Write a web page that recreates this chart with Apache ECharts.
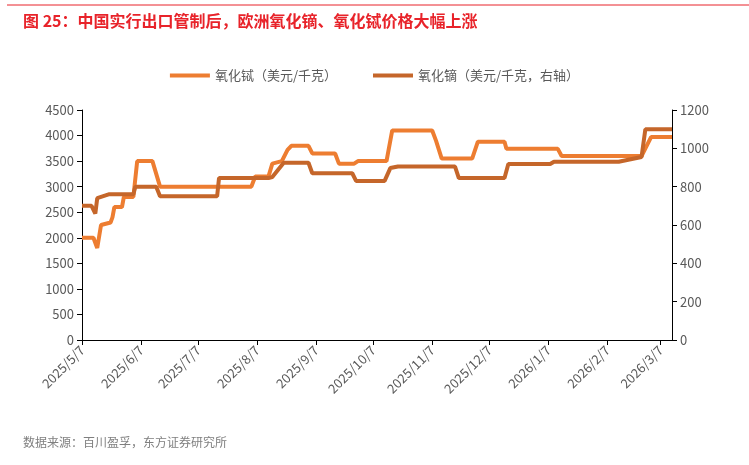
<!DOCTYPE html>
<html>
<head>
<meta charset="utf-8">
<script src="https://cdn.jsdelivr.net/npm/echarts@6/dist/echarts.min.js"></script>
<style>html,body{margin:0;padding:0;background:#fff}#chart{width:749px;height:465px}</style>
</head>
<body>
<div id="chart"></div>
<script>
// 氧化铽（美元/千克）
const tbDates = ['2025/5/7','2025/5/13','2025/5/15','2025/5/17','2025/5/22','2025/5/23','2025/5/24','2025/5/28','2025/5/29','2025/6/3','2025/6/5','2025/6/13','2025/6/17','2025/8/4','2025/8/6','2025/8/13','2025/8/15','2025/8/20','2025/8/23','2025/8/25','2025/9/3','2025/9/5','2025/9/17','2025/9/19','2025/9/27','2025/9/29','2025/10/14','2025/10/17','2025/11/7','2025/11/9','2025/11/12','2025/11/28','2025/12/1','2025/12/15','2025/12/16','2026/1/12','2026/1/14','2026/2/25','2026/3/2','2026/3/13'];
const tbValues = [2000,2000,1800,2250,2300,2400,2600,2600,2800,2800,3500,3500,3000,3000,3200,3200,3450,3500,3720,3800,3800,3650,3650,3450,3450,3500,3500,4100,4100,3900,3550,3550,3880,3880,3740,3740,3600,3600,3970,3970];
// 氧化镝（美元/千克，右轴）
const dyDates = ['2025/5/7','2025/5/12','2025/5/14','2025/5/15','2025/5/21','2025/6/3','2025/6/4','2025/6/15','2025/6/17','2025/7/17','2025/7/18','2025/8/13','2025/8/15','2025/8/21','2025/9/3','2025/9/5','2025/9/26','2025/9/28','2025/10/13','2025/10/16','2025/10/20','2025/11/19','2025/11/21','2025/12/15','2025/12/17','2026/1/8','2026/1/10','2026/2/13','2026/2/25','2026/2/27','2026/3/13'];
const dyValues = [700,700,660,740,760,760,800,800,750,750,845,845,850,925,925,870,870,830,830,897,905,905,845,845,918,918,930,930,955,1100,1100];

const days = [];
for (let t = new Date(2025, 4, 7); t <= new Date(2026, 2, 13); t.setDate(t.getDate() + 1)) {
  days.push(`${t.getFullYear()}/${t.getMonth() + 1}/${t.getDate()}`);
}
const isTick = (i, v) => v.split('/')[2] === '7';

const chart = echarts.init(document.getElementById('chart'));
const font = '"Noto Sans CJK SC", sans-serif';
chart.setOption({
  animation: false,
  textStyle: { fontFamily: font },
  title: [
    { text: '图 25：中国实行出口管制后，欧洲氧化镝、氧化铽价格大幅上涨', left: 18, top: 8,
      textStyle: { color: '#E8232A', fontSize: 16, fontWeight: 'bold', fontFamily: font } },
    { text: '数据来源：百川盈孚，东方证券研究所', left: 18, top: 431,
      textStyle: { color: '#7f7f7f', fontSize: 12, fontWeight: 'normal', fontFamily: font } }
  ],
  graphic: [{ type: 'line', shape: { x1: 7, y1: 5, x2: 749, y2: 5 }, style: { stroke: '#E8232A', lineWidth: 1 } }],
  legend: {
    top: 64, left: 'center', itemWidth: 40, itemHeight: 4, itemGap: 36,
    icon: 'rect',
    textStyle: { color: '#595959', fontSize: 13 },
    data: ['氧化铽（美元/千克）', '氧化镝（美元/千克，右轴）']
  },
  grid: { left: 82, right: 77, top: 110, bottom: 125 },
  xAxis: {
    type: 'category', data: days, boundaryGap: false,
    axisLine: { lineStyle: { color: '#000' } },
    axisTick: { show: true, lineStyle: { color: '#000' }, interval: isTick },
    axisLabel: { rotate: 45, color: '#595959', fontSize: 13, interval: isTick }
  },
  yAxis: [
    { type: 'value', min: 0, max: 4500, interval: 500, splitLine: { show: false },
      axisLine: { show: true, lineStyle: { color: '#000' } }, axisTick: { show: true },
      axisLabel: { color: '#595959', fontSize: 13, formatter: v => String(v) } },
    { type: 'value', min: 0, max: 1200, interval: 200, splitLine: { show: false },
      axisLine: { show: true, lineStyle: { color: '#000' } }, axisTick: { show: true },
      axisLabel: { color: '#595959', fontSize: 13, formatter: v => String(v) } }
  ],
  series: [
    { name: '氧化铽（美元/千克）', type: 'line', showSymbol: false, yAxisIndex: 0,
      color: '#ED7D31', lineStyle: { width: 4 },
      data: tbDates.map((d, i) => [d, tbValues[i]]) },
    { name: '氧化镝（美元/千克，右轴）', type: 'line', showSymbol: false, yAxisIndex: 1,
      color: '#C5662A', lineStyle: { width: 4 },
      data: dyDates.map((d, i) => [d, dyValues[i]]) }
  ]
});
</script>
</body>
</html>
